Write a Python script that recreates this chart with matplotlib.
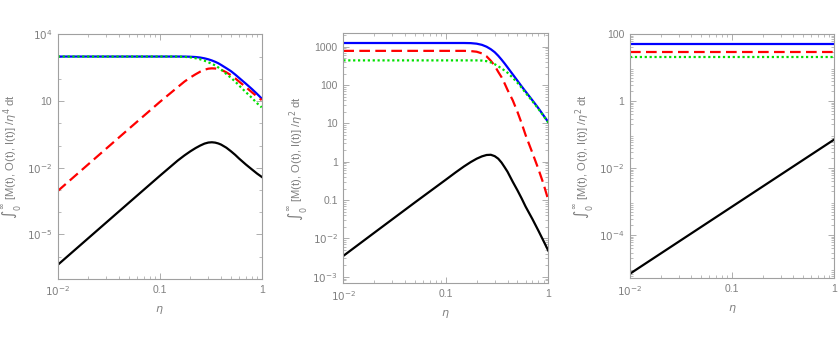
import matplotlib
matplotlib.use("Agg")
import matplotlib.pyplot as plt
import matplotlib.ticker as mticker
import numpy as np

eta = [0.01, 0.02, 0.05, 0.1, 0.125, 0.15, 0.175, 0.2, 0.225, 0.25, 0.275, 0.3,
       0.325, 0.35, 0.375, 0.4, 0.45, 0.5, 0.55, 0.6, 0.7, 0.8, 0.9, 1.0]

# panel 1  (/eta^4)
p1_blue = [1000, 1000, 1000, 1000, 1000, 1000, 995, 980, 950, 900, 830, 750,
           665, 580, 500, 420, 300, 220, 155, 110, 60, 35, 21, 13]
p1_red = [9e-4, 1.45e-2, 0.57, 9, 21, 42, 75, 115, 160, 210, 255, 285,
          295, 290, 275, 255, 195, 145, 105, 75, 42, 25, 16, 11]
p1_green = [1000, 1000, 1000, 1000, 1000, 995, 970, 920, 840, 750, 650, 550,
            470, 400, 325, 260, 165, 110, 75, 50, 25, 14, 8, 5.2]
p1_black = [4.3e-7, 6.9e-6, 2.7e-4, 4.3e-3, 0.0103, 0.021, 0.036, 0.055, 0.077, 0.10, 0.122, 0.136,
            0.14, 0.135, 0.124, 0.11, 0.08, 0.055, 0.038, 0.026, 0.014, 0.0085, 0.0055, 0.0039]

# panel 2  (/eta^2)
p2_blue = [1250, 1250, 1250, 1250, 1250, 1250, 1240, 1200, 1120, 1000, 860, 720,
           580, 460, 365, 290, 190, 130, 92, 68, 40, 25, 16, 10.8]
p2_red = [780, 780, 780, 780, 780, 780, 770, 740, 670, 560, 430, 320,
          220, 160, 110, 75, 40, 20, 10, 5, 1.7, 0.65, 0.26, 0.1]
p2_green = [440, 440, 440, 440, 440, 440, 440, 440, 435, 420, 390, 350,
            310, 270, 240, 210, 155, 115, 85, 63, 38, 24, 15.5, 10.5]
p2_black = [3.5e-3, 0.014, 0.087, 0.34, 0.53, 0.75, 0.98, 1.2, 1.38, 1.5, 1.52, 1.4,
            1.2, 0.95, 0.72, 0.55, 0.3, 0.18, 0.11, 0.068, 0.032, 0.016, 0.0085, 0.0048]

# panel 3  (/eta^2, constant case)
eta3 = [0.01, 0.1, 1.0]
p3_blue = [52, 52, 52]
p3_red = [30, 30, 30]
p3_green = [21, 21, 21]
p3_black = [7e-6, 7e-4, 0.07]

gray = "#808080"
frame = "#a0a0a0"
plt.rcParams['font.family'] = ['Liberation Sans', 'DejaVu Sans']
plt.rcParams['font.size'] = 7.5

fig = plt.figure(figsize=(8.39, 3.44), dpi=100)

boxes = [[0.0688, 0.189, 0.2431, 0.7113],
         [0.4092, 0.1765, 0.2443, 0.7267],
         [0.7509, 0.191, 0.2431, 0.7102]]
ylims = [(1e-7, 1e4), (10**-3.17, 10**3.35), (5.1e-6, 100)]
yticks = [[1e-5, 1e-2, 10, 1e4],
          [1e-3, 1e-2, 0.1, 1, 10, 100, 1000],
          [1e-4, 1e-2, 1, 100]]
ylabs = [[r'$10^{-5}$', r'$10^{-2}$', '10', r'$10^{4}$'],
         [r'$10^{-3}$', r'$10^{-2}$', '0.1', '1', '10', '100', '1000'],
         [r'$10^{-4}$', r'$10^{-2}$', '1', '100']]
powers = [4, 2, 2]
data = [(eta, p1_blue, p1_red, p1_green, p1_black),
        (eta, p2_blue, p2_red, p2_green, p2_black),
        (eta3, p3_blue, p3_red, p3_green, p3_black)]

for i in range(3):
    ax = fig.add_axes(boxes[i])
    x, b, r, g, k = data[i]
    ax.plot(x, k, color='black', lw=1.6)
    ax.plot(x, b, color='#0000ff', lw=1.6)
    ax.plot(x, r, color='#ff0000', lw=1.6, ls=(0, (4.8, 2.4)))
    ax.plot(x, g, color='#00e000', lw=1.6, ls=(0, (1, 1.2)))
    ax.set_xscale('log')
    ax.set_yscale('log')
    ax.set_xlim(0.01, 1)
    ax.set_ylim(*ylims[i])
    ax.set_xticks([0.01, 0.1, 1])
    ax.set_xticklabels([r'$10^{-2}$', '0.1', '1'])
    ax.set_yticks(yticks[i])
    ax.set_yticklabels(ylabs[i])
    ax.xaxis.set_minor_locator(mticker.LogLocator(base=10, subs=np.arange(2, 10)))
    ax.xaxis.set_minor_formatter(mticker.NullFormatter())
    if i == 0:
        ax.yaxis.set_minor_locator(mticker.FixedLocator([10.0**p for p in range(-7, 5)]))
    else:
        ax.yaxis.set_minor_locator(mticker.LogLocator(base=10, subs=np.arange(2, 10), numticks=30))
    ax.yaxis.set_minor_formatter(mticker.NullFormatter())
    ax.tick_params(which='both', direction='in', top=True, right=True,
                   colors=frame, labelcolor=gray, labelsize=7.5, pad=4)
    ax.tick_params(which='major', length=4, width=0.6)
    ax.tick_params(which='minor', length=2, width=0.5)
    for s in ax.spines.values():
        s.set_color(frame)
        s.set_linewidth(0.8)
    ax.set_xlabel(r'$\eta$', color=gray, fontsize=8, labelpad=4)
    ax.set_ylabel(r'$\int_0^\infty$ [M(t), O(t), I(t)] /$\eta^%d$ dt' % powers[i],
                  color=gray, fontsize=8.1, labelpad=2)

plt.savefig('out.png', dpi=100)
